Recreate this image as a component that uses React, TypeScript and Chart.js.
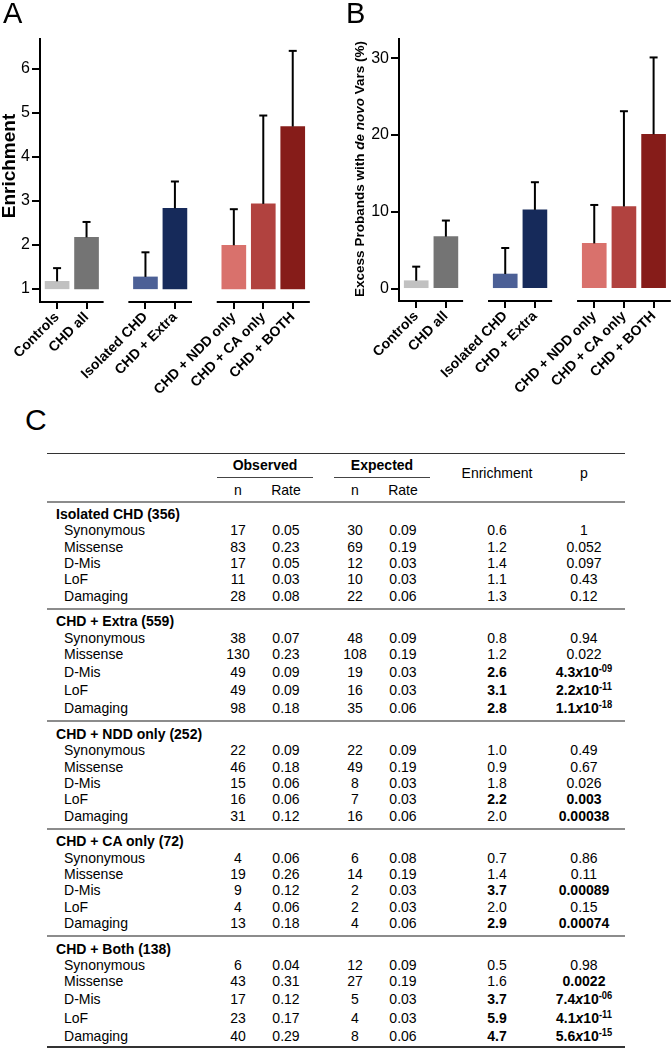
import React, { useEffect, useRef } from 'react';
import { Chart, registerables } from 'chart.js';

Chart.register(...registerables);

const FONT = '"Liberation Sans", Arial, Helvetica, sans-serif';
Chart.defaults.font.family = FONT;

// ---------- Panels A & B ----------
const categories = ['Controls', 'CHD all', 'Isolated CHD', 'CHD + Extra', 'CHD + NDD only', 'CHD + CA only', 'CHD + BOTH'];
const slots = [1, 2, 4, 5, 7, 8, 9];
const groupRanges = [[1, 2], [4, 5], [7, 9]];
const barColors = ['#c1c1c1', '#747474', '#4c6096', '#162a5a', '#d9716c', '#b1423f', '#861c19'];

const enrichment = [1.17, 2.17, 1.27, 2.83, 1.99, 2.93, 4.69];
const enrichmentUpper = [1.47, 2.52, 1.83, 3.44, 2.81, 4.94, 6.41];
const enrichmentTicks = [1, 2, 3, 4, 5, 6];

const excessProbands = [1.04, 6.78, 1.91, 10.26, 5.9, 10.7, 20.1];
const excessUpper = [2.87, 8.87, 5.3, 13.86, 10.9, 23.1, 30.1];
const excessTicks = [0, 10, 20, 30];

// ---------- Panel C ----------
const tableGroups = ['Isolated CHD (356)', 'CHD + Extra (559)', 'CHD + NDD only (252)', 'CHD + CA only (72)', 'CHD + Both (138)'];
const variantClasses = ['Synonymous', 'Missense', 'D-Mis', 'LoF', 'Damaging'];
const observedN = [
  ['17', '83', '17', '11', '28'],
  ['38', '130', '49', '49', '98'],
  ['22', '46', '15', '16', '31'],
  ['4', '19', '9', '4', '13'],
  ['6', '43', '17', '23', '40'],
];
const observedRate = [
  ['0.05', '0.23', '0.05', '0.03', '0.08'],
  ['0.07', '0.23', '0.09', '0.09', '0.18'],
  ['0.09', '0.18', '0.06', '0.06', '0.12'],
  ['0.06', '0.26', '0.12', '0.06', '0.18'],
  ['0.04', '0.31', '0.12', '0.17', '0.29'],
];
const expectedN = [
  ['30', '69', '12', '10', '22'],
  ['48', '108', '19', '16', '35'],
  ['22', '49', '8', '7', '16'],
  ['6', '14', '2', '2', '4'],
  ['12', '27', '5', '4', '8'],
];
const expectedRate = [
  ['0.09', '0.19', '0.03', '0.03', '0.06'],
  ['0.09', '0.19', '0.03', '0.03', '0.06'],
  ['0.09', '0.19', '0.03', '0.03', '0.06'],
  ['0.08', '0.19', '0.03', '0.03', '0.06'],
  ['0.09', '0.19', '0.03', '0.03', '0.06'],
];
const enrichmentRatio = [
  ['0.6', '1.2', '1.4', '1.1', '1.3'],
  ['0.8', '1.2', '2.6', '3.1', '2.8'],
  ['1.0', '0.9', '1.8', '2.2', '2.0'],
  ['0.7', '1.4', '3.7', '2.0', '2.9'],
  ['0.5', '1.6', '3.7', '5.9', '4.7'],
];
const pValues = [
  ['1', '0.052', '0.097', '0.43', '0.12'],
  ['0.94', '0.022', '4.3x10^-09', '2.2x10^-11', '1.1x10^-18'],
  ['0.49', '0.67', '0.026', '0.003', '0.00038'],
  ['0.86', '0.11', '0.00089', '0.15', '0.00074'],
  ['0.98', '0.0022', '7.4x10^-06', '4.1x10^-11', '5.6x10^-15'],
];
const enrichmentBold = [
  [0, 0, 0, 0, 0],
  [0, 0, 1, 1, 1],
  [0, 0, 0, 1, 0],
  [0, 0, 1, 0, 1],
  [0, 0, 1, 1, 1],
];
const pBold = [
  [0, 0, 0, 0, 0],
  [0, 0, 1, 1, 1],
  [0, 0, 0, 1, 1],
  [0, 0, 1, 0, 1],
  [0, 1, 1, 1, 1],
];

type TitlePart = { text: string; italic?: boolean };

type PanelProps = {
  left: number;
  letter: string;
  letterX: number;
  values: number[];
  upper: number[];
  base: number;
  yMin: number;
  yMax: number;
  yTicks: number[];
  axisX: number;
  plotRight: number;
  plotBottom: number;
  titleX: number;
  titleY: number;
  titleSize: number;
  titleParts: TitlePart[];
};

const W = 336;
const H = 400;

function BarPanel(p: PanelProps) {
  const ref = useRef<HTMLCanvasElement>(null);
  useEffect(() => {
    const decor = {
      id: 'decor',
      afterDatasetsDraw(chart: any) {
        const meta = chart.getDatasetMeta(0);
        const ys = chart.scales.y;
        const ctx = chart.ctx;
        ctx.save();
        ctx.strokeStyle = '#000';
        ctx.lineWidth = 2;
        meta.data.forEach((el: any, i: number) => {
          const x = el.x;
          const top = ys.getPixelForValue(p.values[i]);
          const up = ys.getPixelForValue(p.upper[i]);
          ctx.beginPath();
          ctx.moveTo(x, top);
          ctx.lineTo(x, up);
          ctx.stroke();
          ctx.beginPath();
          ctx.moveTo(x - 4, up);
          ctx.lineTo(x + 4, up);
          ctx.stroke();
        });
        ctx.restore();
      },
      afterDraw(chart: any) {
        const ctx = chart.ctx;
        const xs = chart.scales.x;
        const area = chart.chartArea;
        ctx.save();
        // broken x axis segments
        ctx.strokeStyle = '#000';
        ctx.lineWidth = 2;
        groupRanges.forEach(([a, b]) => {
          const x0 = Math.max(xs.getPixelForValue(a - 0.58), area.left - 1);
          const x1 = xs.getPixelForValue(b + 0.58);
          ctx.beginPath();
          ctx.moveTo(x0, area.bottom);
          ctx.lineTo(x1, area.bottom);
          ctx.stroke();
        });
        // y title with mixed styles
        ctx.fillStyle = '#000';
        ctx.translate(p.titleX, p.titleY);
        ctx.rotate(-Math.PI / 2);
        ctx.textBaseline = 'alphabetic';
        ctx.textAlign = 'left';
        const fonts = p.titleParts.map(
          (t) => `${t.italic ? 'italic ' : ''}bold ${p.titleSize}px ${FONT}`
        );
        const widths = p.titleParts.map((t, i) => {
          ctx.font = fonts[i];
          return ctx.measureText(t.text).width;
        });
        const total = widths.reduce((s, w) => s + w, 0);
        let cx = -total / 2;
        p.titleParts.forEach((t, i) => {
          ctx.font = fonts[i];
          ctx.fillText(t.text, cx, 0);
          cx += widths[i];
        });
        ctx.restore();
        // panel letter
        ctx.save();
        ctx.fillStyle = '#000';
        ctx.font = `29px ${FONT}`;
        ctx.textBaseline = 'alphabetic';
        ctx.fillText(p.letter, p.letterX, 23);
        ctx.restore();
      },
    };

    const chart = new Chart(ref.current as HTMLCanvasElement, {
      type: 'bar',
      data: {
        datasets: [
          {
            data: slots.map((s, i) => ({ x: s, y: [p.base, p.values[i]] })) as any,
            backgroundColor: barColors,
            borderWidth: 0,
            barThickness: 24,
          },
        ],
      },
      options: {
        animation: false,
        responsive: false,
        maintainAspectRatio: false,
        layout: { padding: { top: 39, left: 0, right: W - p.plotRight, bottom: 0 } },
        plugins: { legend: { display: false }, tooltip: { enabled: false } },
        scales: {
          x: {
            type: 'linear',
            min: 0.42,
            max: 9.62,
            offset: false,
            afterBuildTicks: (s: any) => {
              s.ticks = slots.map((v) => ({ value: v }));
            },
            afterFit: (s: any) => {
              s.height = H - p.plotBottom;
            },
            ticks: {
              autoSkip: false,
              minRotation: 45,
              maxRotation: 45,
              callback: (_v: any, i: number) => categories[i],
              font: { family: FONT, size: 14, weight: 'bold' },
              color: '#000',
              padding: 0,
            },
            grid: {
              offset: false,
              drawOnChartArea: false,
              drawTicks: true,
              tickLength: 7,
              color: '#000',
              lineWidth: 2,
            },
            border: { display: false },
          } as any,
          y: {
            type: 'linear',
            min: p.yMin,
            max: p.yMax,
            beginAtZero: false,
            afterBuildTicks: (s: any) => {
              s.ticks = p.yTicks.map((v) => ({ value: v }));
            },
            afterFit: (s: any) => {
              s.width = p.axisX;
            },
            ticks: {
              font: { family: FONT, size: 16 },
              color: '#000',
              padding: 2,
            },
            grid: {
              drawOnChartArea: false,
              drawTicks: true,
              tickLength: 8,
              color: '#000',
              lineWidth: 2,
            },
            border: { display: true, color: '#000', width: 2 },
          } as any,
        },
      },
      plugins: [decor],
    });
    return () => chart.destroy();
  }, []);
  return (
    <canvas
      ref={ref}
      width={W}
      height={H}
      style={{ position: 'absolute', left: p.left, top: 0, width: W, height: H }}
    />
  );
}

// ---------- Table helpers ----------
const FS = 15;
const NARROW = 0.935;
const ASC = 0.8465;

function Txt(props: {
  x: number;
  base: number;
  align?: 'left' | 'center';
  bold?: boolean;
  size?: number;
  wide?: boolean;
  children: any;
}) {
  const size = props.size ?? FS;
  const style: any = {
    position: 'absolute',
    top: props.base - ASC * size,
    height: size,
    lineHeight: `${size}px`,
    fontSize: size,
    fontWeight: props.bold ? 'bold' : 'normal',
    whiteSpace: 'nowrap',
    color: '#000',
  };
  if (props.align === 'center') {
    style.left = props.x - 100;
    style.width = 200;
    style.textAlign = 'center';
    style.transformOrigin = 'center';
  } else {
    style.left = props.x;
    style.transformOrigin = 'left';
  }
  if (!props.wide) style.transform = `scaleX(${NARROW})`;
  return <div style={style}>{props.children}</div>;
}

function PValue({ value }: { value: string }) {
  if (value.indexOf('x10^') < 0) return <>{value}</>;
  const [mant, exp] = value.split('x10^');
  return (
    <>
      {mant}
      <span style={{ fontStyle: 'italic' }}>x</span>10
      <span style={{ fontSize: 10, position: 'relative', top: -5 }}>{exp}</span>
    </>
  );
}

function Rule(props: { x0: number; x1: number; y: number; h: number; color: string }) {
  return (
    <div
      style={{
        position: 'absolute',
        left: props.x0,
        width: props.x1 - props.x0,
        top: props.y - props.h / 2,
        height: props.h,
        background: props.color,
      }}
    />
  );
}

function TablePanel() {
  const L = 47;
  const R = 625;
  const colObsN = 238;
  const colObsRate = 286;
  const colExpN = 355;
  const colExpRate = 403;
  const colEnr = 497;
  const colP = 584;
  const off = 5.4; // baseline below cap-center
  const items: any[] = [];

  items.push(
    <Txt key="C" x={25} base={430} size={30} wide>
      C
    </Txt>
  );
  items.push(<Rule key="top" x0={L} x1={R} y={453.3} h={1.5} color="#333" />);
  items.push(
    <Txt key="obs" x={265} base={464.3 + off} align="center" bold>
      Observed
    </Txt>
  );
  items.push(
    <Txt key="exp" x={382} base={464.3 + off} align="center" bold>
      Expected
    </Txt>
  );
  items.push(<Rule key="obsU" x0={217} x1={313} y={477.7} h={1.2} color="#444" />);
  items.push(<Rule key="expU" x0={334} x1={430} y={477.7} h={1.2} color="#444" />);
  items.push(
    <Txt key="enr" x={colEnr} base={472.7 + off} align="center">
      Enrichment
    </Txt>
  );
  items.push(
    <Txt key="p" x={colP} base={472.7 + off} align="center">
      p
    </Txt>
  );
  [
    ['n', colObsN],
    ['Rate', colObsRate],
    ['n', colExpN],
    ['Rate', colExpRate],
  ].forEach(([t, x], i) => {
    items.push(
      <Txt key={'sub' + i} x={x as number} base={489 + off} align="center">
        {t}
      </Txt>
    );
  });
  items.push(<Rule key="r0" x0={L} x1={R} y={501.7} h={2} color="#8c8c8c" />);

  let y = 513.3;
  tableGroups.forEach((g, gi) => {
    items.push(
      <Txt key={'g' + gi} x={56} base={y + off} bold>
        {g}
      </Txt>
    );
    variantClasses.forEach((v, ri) => {
      const sup = pValues[gi][ri].indexOf('^') >= 0;
      y += sup ? 18.2 : 16.3;
      const b = y + off;
      const k = `${gi}-${ri}`;
      items.push(
        <Txt key={'l' + k} x={64} base={b}>
          {v}
        </Txt>
      );
      items.push(
        <Txt key={'on' + k} x={colObsN} base={b} align="center">
          {observedN[gi][ri]}
        </Txt>
      );
      items.push(
        <Txt key={'or' + k} x={colObsRate} base={b} align="center">
          {observedRate[gi][ri]}
        </Txt>
      );
      items.push(
        <Txt key={'en' + k} x={colExpN} base={b} align="center">
          {expectedN[gi][ri]}
        </Txt>
      );
      items.push(
        <Txt key={'er' + k} x={colExpRate} base={b} align="center">
          {expectedRate[gi][ri]}
        </Txt>
      );
      items.push(
        <Txt key={'e' + k} x={colEnr} base={b} align="center" bold={!!enrichmentBold[gi][ri]}>
          {enrichmentRatio[gi][ri]}
        </Txt>
      );
      items.push(
        <Txt key={'p' + k} x={colP} base={b} align="center" bold={!!pBold[gi][ri]}>
          <PValue value={pValues[gi][ri]} />
        </Txt>
      );
    });
    const last = gi === tableGroups.length - 1;
    const ry = y + (last ? 12 : 13.7);
    items.push(
      <Rule
        key={'rule' + gi}
        x0={L}
        x1={R}
        y={ry}
        h={last ? 1.5 : 2}
        color={last ? '#333' : '#8c8c8c'}
      />
    );
    y = ry + 12;
  });

  return <>{items}</>;
}

export default function App() {
  return (
    <div
      style={{
        position: 'absolute',
        left: 0,
        top: 0,
        width: 672,
        height: 1050,
        background: '#fff',
        fontFamily: FONT,
        overflow: 'hidden',
      }}
    >
      <BarPanel
        left={0}
        letter="A"
        letterX={3}
        values={enrichment}
        upper={enrichmentUpper}
        base={1}
        yMin={0.7}
        yMax={6.68}
        yTicks={enrichmentTicks}
        axisX={40}
        plotRight={311}
        plotBottom={302}
        titleX={15}
        titleY={166}
        titleSize={19}
        titleParts={[{ text: 'Enrichment' }]}
      />
      <BarPanel
        left={336}
        letter="B"
        letterX={10}
        values={excessProbands}
        upper={excessUpper}
        base={0}
        yMin={-1.6}
        yMax={32.5}
        yTicks={excessTicks}
        axisX={63}
        plotRight={336}
        plotBottom={301}
        titleX={28}
        titleY={169}
        titleSize={13.5}
        titleParts={[
          { text: 'Excess Probands with ' },
          { text: 'de novo', italic: true },
          { text: ' Vars (%)' },
        ]}
      />
      <TablePanel />
    </div>
  );
}
